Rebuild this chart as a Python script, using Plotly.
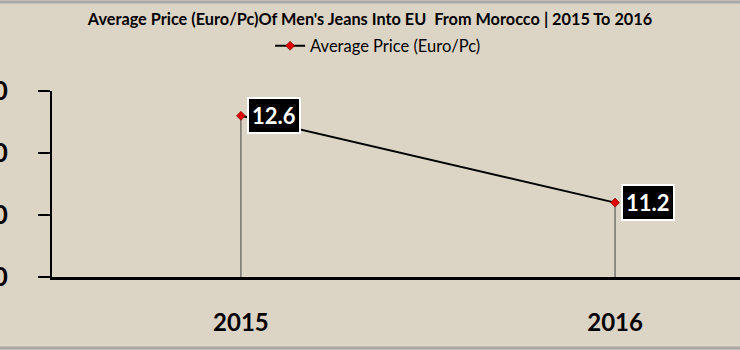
import plotly.graph_objects as go

years = ["2015", "2016"]
avg_price = [12.6, 11.2]
y_ticks = [10, 11, 12, 13]
series_name = "Average Price (Euro/Pc)"
title_text = "Average Price (Euro/Pc)Of Men's Jeans Into EU  From Morocco | 2015 To 2016"

FONT = "Lato, Liberation Sans, sans-serif"
BG = "#dcd5c5"
base = y_ticks[0]

fig = go.Figure()
fig.add_trace(go.Scatter(
    x=years, y=avg_price, name=series_name, mode="lines+markers",
    line=dict(color="black", width=2),
    marker=dict(symbol="diamond", size=7, color="#e00000", line=dict(color="#600000", width=0.5)),
    error_y=dict(type="data", symmetric=False, array=[0] * len(avg_price),
                 arrayminus=[v - base for v in avg_price], width=0, thickness=1, color="#454545"),
    cliponaxis=False,
))

for i, v in enumerate(avg_price):
    fig.add_annotation(x=i, y=v, text="%.1f" % v, showarrow=False, xanchor="left",
                       yanchor="middle", xshift=6,
                       font=dict(family=FONT, size=22, color="white", weight="bold"),
                       bgcolor="black", bordercolor="white", borderwidth=2, borderpad=3)

fig.update_layout(
    width=740, height=350,
    margin=dict(l=52, r=0, t=91, b=73),
    paper_bgcolor=BG, plot_bgcolor=BG,
    title=dict(text=title_text, x=0.5, xanchor="center", y=1 - 19 / 350,
               yanchor="middle", font=dict(family=FONT, size=16.3, color="black", weight="bold")),
    legend=dict(orientation="h", x=0.474, xanchor="center", y=1 + 45 / 186, yanchor="middle",
                font=dict(family=FONT, size=16.5, color="black"), bgcolor="rgba(0,0,0,0)",
                itemwidth=30),
    showlegend=True,
    xaxis=dict(type="category", range=[-0.505, 1.334], showgrid=False, zeroline=False,
               showline=True, linecolor="black", linewidth=3, ticks="",
               tickfont=dict(family=FONT, size=24, color="black", weight="bold"),
               ticklabelstandoff=22, automargin=False),
    yaxis=dict(range=[y_ticks[0], y_ticks[-1]], tickvals=y_ticks, tickformat=".1f",
               showgrid=False, zeroline=False, showline=True, linecolor="black", linewidth=2,
               ticks="outside", ticklen=12, tickwidth=2, tickcolor="black",
               tickfont=dict(family=FONT, size=26, color="black", weight="bold"),
               ticklabelstandoff=25, automargin=False),
    shapes=[
        dict(type="line", xref="paper", yref="paper", x0=-1, x1=2, y0=1 + 89 / 186, y1=1 + 89 / 186,
             line=dict(color="#a8a8a8", width=3)),
        dict(type="line", xref="paper", yref="paper", x0=-1, x1=2, y0=-71 / 186, y1=-71 / 186,
             line=dict(color="#a8a8a8", width=3)),
    ],
)

fig.write_html("out.html")
